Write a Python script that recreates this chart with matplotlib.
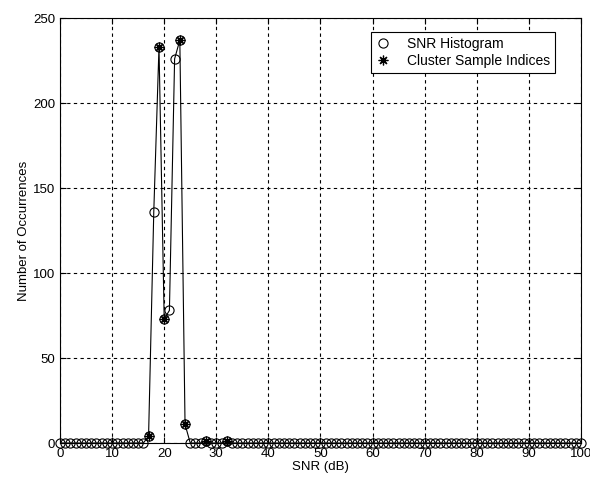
import numpy as np
import matplotlib
matplotlib.use("Agg")
import matplotlib.pyplot as plt

# histogram of SNR values (bins 0..100 dB)
snr_bins = np.arange(0, 101)
counts = np.zeros(101)
peak_bins = [17, 18, 19, 20, 21, 22, 23, 24, 28, 32]
peak_counts = [4, 136, 233, 73, 78, 226, 237, 11, 1, 1]
counts[peak_bins] = peak_counts

# cluster sample indices (bins picked out)
cluster_bins = [17, 19, 20, 23, 24, 28, 32]

plt.rcParams['font.family'] = ['Liberation Sans', 'DejaVu Sans']

fig = plt.figure(figsize=(5.9, 4.87), dpi=100)
ax = fig.add_axes([0.1017, 0.0903, 0.883, 0.8727])

ax.plot(snr_bins, counts, color="black", lw=0.8, zorder=2)
ax.plot(snr_bins, counts, "o", mfc="none", mec="black", ms=6.6, mew=0.8,
        label="SNR Histogram", zorder=3, clip_on=False)
ax.plot(cluster_bins, counts[cluster_bins], ls="none", marker=(8, 2, 0),
        color="black", ms=7, mew=0.9, label="Cluster Sample Indices",
        zorder=4, clip_on=False)

ax.set_xlim(0, 100)
ax.set_ylim(0, 250)
ax.set_xticks(np.arange(0, 101, 10))
ax.set_yticks(np.arange(0, 251, 50))
ax.tick_params(direction="in", labelsize=9.5, length=4, colors="black",
               top=True, right=True)
ax.grid(True, color="black", linestyle=(0, (3, 3)), lw=0.8)
for s in ax.spines.values():
    s.set_linewidth(0.8)

ax.set_xlabel("SNR (dB)", fontsize=9.5, labelpad=1)
ax.set_ylabel("Number of Occurrences", fontsize=9.5, labelpad=2)

leg = ax.legend(loc="upper right", fontsize=10, fancybox=False, framealpha=1,
                edgecolor="black", handlelength=1.0, handletextpad=1.2,
                borderpad=0.35, labelspacing=0.2,
                bbox_to_anchor=(0.963, 0.983))
leg.get_frame().set_linewidth(0.8)

fig.savefig("out.png", dpi=100)
